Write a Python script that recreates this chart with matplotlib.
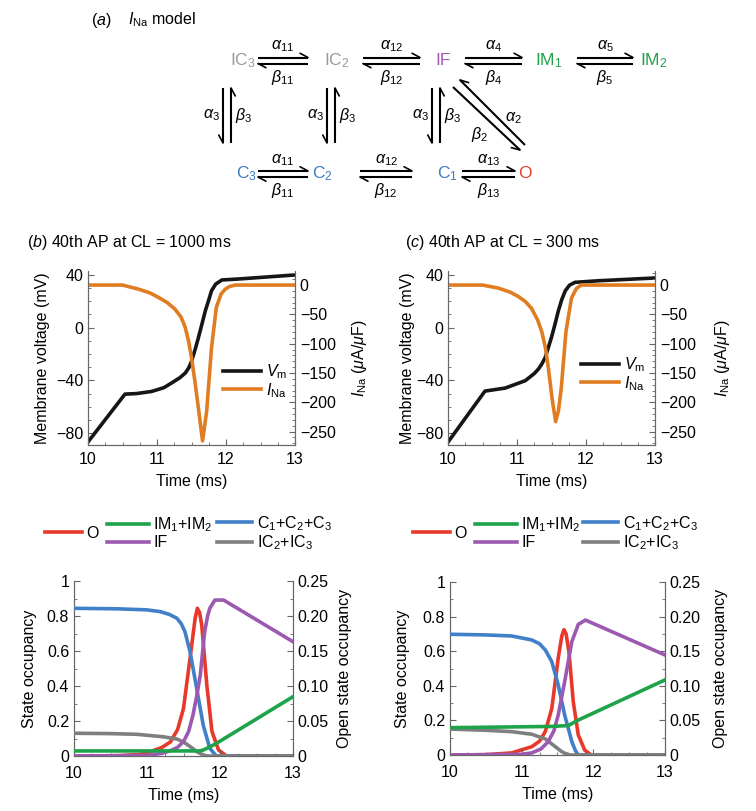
import numpy as np
import matplotlib
matplotlib.use("Agg")
import matplotlib.pyplot as plt
from matplotlib.ticker import MultipleLocator, AutoMinorLocator

plt.rcParams['font.family'] = ['Liberation Sans', 'DejaVu Sans']
plt.rcParams['mathtext.fontset'] = 'custom'
plt.rcParams['mathtext.rm'] = 'Liberation Sans'
plt.rcParams['mathtext.it'] = 'Liberation Sans:italic'
plt.rcParams['mathtext.bf'] = 'Liberation Sans:bold'
plt.rcParams['font.size'] = 11.5

# ---- data ----
# (b) top: CL = 1000 ms
b_vm_t = [10, 10.536, 10.7, 10.92, 11.1, 11.21, 11.33, 11.41, 11.46, 11.5, 11.55, 11.6, 11.65, 11.7, 11.75, 11.79, 11.85, 11.94, 12.2, 13]
b_vm = [-86.7, -50.4, -50, -48.4, -45.5, -42, -38, -34.4, -30.5, -25.5, -17, -7.6, 2.5, 12.7, 21, 28, 33, 36.2, 37, 40]
b_ina_t = [10, 10.5, 10.73, 10.9, 11.02, 11.15, 11.26, 11.35, 11.41, 11.46, 11.5, 11.55, 11.6, 11.66, 11.72, 11.79, 11.86, 11.93, 11.99, 12.05, 12.13, 13]
b_ina = [0, 0, -6.9, -13.5, -21, -30, -41, -55, -72.6, -97, -124, -165, -210, -266, -215, -107, -38, -15, -7, -2.5, 0, 0]

# (c) top: CL = 300 ms
c_vm_t = [10, 10.536, 10.83, 11.12, 11.25, 11.31, 11.36, 11.41, 11.5, 11.55, 11.6, 11.65, 11.7, 11.76, 11.84, 12.18, 13]
c_vm = [-86.8, -48.1, -45.8, -40.2, -34.8, -31.4, -27.5, -22.5, -7.3, 2.5, 12.9, 21.5, 28, 32.2, 34.4, 35.6, 37.7]
c_ina_t = [10, 10.5, 10.73, 10.9, 11.02, 11.12, 11.21, 11.3, 11.36, 11.41, 11.45, 11.51, 11.56, 11.6, 11.64, 11.71, 11.79, 11.86, 11.93, 13]
c_ina = [0, 0, -5.2, -12, -19.6, -28, -39.7, -60, -80, -106, -137.6, -195, -233, -215, -178, -79, -22, -6, 0, 0]

# (b) bottom: state occupancies
b_o_t = [10, 10.6, 10.9, 11.04, 11.2, 11.32, 11.42, 11.5, 11.59, 11.66, 11.69, 11.72, 11.75, 11.82, 11.89, 11.98, 12.09, 13]
b_o = [0, 0.0005, 0.002, 0.006, 0.012, 0.02, 0.038, 0.068, 0.14, 0.197, 0.211, 0.205, 0.187, 0.101, 0.035, 0.0086, 0, 0]
b_im_t = [10, 11.72, 11.77, 11.85, 11.95, 13]
b_im = [0.029, 0.029, 0.034, 0.05, 0.072, 0.339]
b_c_t = [10, 10.6, 11.0, 11.18, 11.3, 11.41, 11.47, 11.52, 11.59, 11.68, 11.77, 11.86, 11.95, 13]
b_c = [0.844, 0.841, 0.835, 0.825, 0.81, 0.787, 0.755, 0.71, 0.596, 0.387, 0.177, 0.044, 0, 0]
b_if_t = [10, 11.0, 11.2, 11.32, 11.42, 11.5, 11.57, 11.63, 11.68, 11.73, 11.79, 11.83, 11.86, 11.93, 12.05, 13]
b_if = [0, 0.003, 0.015, 0.03, 0.05, 0.082, 0.14, 0.234, 0.34, 0.463, 0.71, 0.8, 0.844, 0.891, 0.891, 0.653]
b_ic_t = [10, 10.5, 10.86, 11.22, 11.41, 11.5, 11.56, 11.62, 11.68, 11.75, 11.82, 13]
b_ic = [0.13, 0.128, 0.124, 0.11, 0.097, 0.08, 0.063, 0.045, 0.025, 0.01, 0, 0]

# (c) bottom: state occupancies
c_o_t = [10, 10.5, 10.86, 11.14, 11.25, 11.33, 11.42, 11.51, 11.56, 11.59, 11.62, 11.66, 11.72, 11.79, 11.88, 11.97, 13]
c_o = [0, 0.0005, 0.003, 0.012, 0.02, 0.034, 0.067, 0.14, 0.172, 0.181, 0.175, 0.149, 0.077, 0.029, 0.007, 0, 0]
c_im_t = [10, 11.4, 11.65, 11.79, 13]
c_im = [0.158, 0.165, 0.17, 0.202, 0.434]
c_c_t = [10, 10.5, 10.86, 11.14, 11.25, 11.33, 11.42, 11.51, 11.6, 11.7, 11.75, 11.79, 13]
c_c = [0.698, 0.694, 0.688, 0.665, 0.643, 0.607, 0.54, 0.405, 0.231, 0.077, 0.025, 0, 0]
c_if_t = [10, 11.0, 11.14, 11.27, 11.37, 11.45, 11.51, 11.6, 11.7, 11.79, 11.89, 13]
c_if = [0, 0.004, 0.012, 0.035, 0.077, 0.14, 0.231, 0.424, 0.655, 0.755, 0.78, 0.578]
c_ic_t = [10, 10.5, 10.86, 11.14, 11.33, 11.47, 11.55, 11.6, 11.68, 13]
c_ic = [0.15, 0.143, 0.135, 0.12, 0.093, 0.048, 0.022, 0.01, 0, 0]

W, H = 756, 811
RED, GREEN, BLUE, PURPLE, GRAY = '#e8382a', '#1ea34b', '#4080c8', '#9b59b0', '#7f7f7f'
ORANGE, BLACK = '#e07d22', '#161616'
LW = 2.6
FS = 11.5

fig = plt.figure(figsize=(W / 100, H / 100), dpi=100)

# full-figure pixel canvas for the scheme and free text
dg = fig.add_axes([0, 0, 1, 1], zorder=-1)
dg.set_xlim(0, W)
dg.set_ylim(H, 0)
dg.axis('off')


def px_axes(l, t, r, b):
    return fig.add_axes([l / W, 1 - b / H, (r - l) / W, (b - t) / H])


def harpoon(p0, p1, side, L=9, ang=28):
    p0 = np.array(p0, float)
    p1 = np.array(p1, float)
    d = (p1 - p0) / np.hypot(*(p1 - p0))
    n = np.array([-d[1], d[0]])
    a = np.radians(ang)
    tip = p1 - L * np.cos(a) * d + side * L * np.sin(a) * n
    dg.plot([p0[0], p1[0]], [p0[1], p1[1]], color='k', lw=1.5, solid_capstyle='butt')
    dg.plot([p1[0], tip[0]], [p1[1], tip[1]], color='k', lw=1.2, solid_capstyle='round')


def hpair(x0, x1, y, a_lab, b_lab):
    harpoon((x0, y - 3), (x1, y - 3), -1)
    harpoon((x1, y + 3), (x0, y + 3), -1)
    xm = (x0 + x1) / 2
    dg.text(xm, y - 14, a_lab, ha='center', va='center', fontsize=FS)
    dg.text(xm, y + 17, b_lab, ha='center', va='center', fontsize=FS)


def vpair(x, y0, y1):
    harpoon((x - 4, y0), (x - 4, y1), 1)
    harpoon((x + 4, y1), (x + 4, y0), 1)
    dg.text(x - 16, (y0 + y1) / 2, r'$\alpha_3$', ha='center', va='center', fontsize=FS)
    dg.text(x + 17, (y0 + y1) / 2, r'$\beta_3$', ha='center', va='center', fontsize=FS)


# ---- (a) scheme ----
dg.text(91, 20, r'($\it{a}$)', ha='left', va='center', fontsize=FS)
dg.text(128, 20, r'$I_{\rm Na}$ model', ha='left', va='center', fontsize=FS)

ytop, ybot = 60.5, 174
states = [('IC$_3$', 243, ytop, '#9a9a9a'), ('IC$_2$', 337, ytop, '#9a9a9a'),
          ('IF', 443, ytop, '#a25bb5'), ('IM$_1$', 549, ytop, '#22a04a'),
          ('IM$_2$', 654, ytop, '#22a04a'), ('C$_3$', 246, ybot, '#3f7cc4'),
          ('C$_2$', 322, ybot, '#3f7cc4'), ('C$_1$', 447, ybot, '#3f7cc4'),
          ('O', 525, ybot, '#e8402a')]
for lab, x, y, col in states:
    dg.text(x, y, lab, ha='center', va='center', color=col, fontsize=12.5)

hpair(258, 308, ytop, r'$\alpha_{11}$', r'$\beta_{11}$')
hpair(363, 420, ytop, r'$\alpha_{12}$', r'$\beta_{12}$')
hpair(465, 522, ytop, r'$\alpha_4$', r'$\beta_4$')
hpair(577, 633, ytop, r'$\alpha_5$', r'$\beta_5$')
hpair(258, 308, ybot, r'$\alpha_{11}$', r'$\beta_{11}$')
hpair(360, 412, ybot, r'$\alpha_{12}$', r'$\beta_{12}$')
hpair(462, 515, ybot, r'$\alpha_{13}$', r'$\beta_{13}$')
vpair(227, 88, 143)
vpair(331, 88, 143)
vpair(436, 88, 143)
harpoon((525, 145), (460, 80), 1)
harpoon((453, 87), (520, 150), 1)
dg.text(513, 118, r'$\alpha_2$', ha='center', va='center', fontsize=FS)
dg.text(480, 135, r'$\beta_2$', ha='center', va='center', fontsize=FS)


def style(ax):
    for s in ax.spines.values():
        s.set_color('#666666')
        s.set_linewidth(0.8)
    ax.spines['top'].set_visible(False)
    ax.tick_params(which='both', direction='in', colors='#666666', labelcolor='k',
                   labelsize=FS, top=False)
    ax.tick_params(which='major', length=4)
    ax.tick_params(which='minor', length=2.5)
    ax.tick_params(axis='x', which='major', pad=7)


def label_x(ax, px):
    return ax.transAxes.inverted().transform(fig.transFigure.transform((px / W, 0)))[0]


def top_panel(box, vt, vm, it, ina, title, title_x, leg_xy, lab_l, lab_r):
    ax = px_axes(*box)
    ax2 = ax.twinx()
    l1, = ax.plot(vt, vm, color=BLACK, lw=LW, zorder=3)
    l2, = ax2.plot(it, ina, color=ORANGE, lw=LW, zorder=2)
    ax.set_xlim(10, 13)
    ax.set_ylim(-89, 43)
    ax2.set_ylim(-273, 24)
    ax.xaxis.set_major_locator(MultipleLocator(1))
    ax.xaxis.set_minor_locator(AutoMinorLocator(4))
    ax.yaxis.set_major_locator(MultipleLocator(40))
    ax.yaxis.set_minor_locator(AutoMinorLocator(4))
    ax2.yaxis.set_major_locator(MultipleLocator(50))
    ax2.yaxis.set_minor_locator(AutoMinorLocator(5))
    style(ax)
    style(ax2)
    ax.tick_params(which='both', right=False)
    ax.tick_params(axis='x', which='major', pad=5)
    ax.set_xlabel('Time (ms)', fontsize=FS, labelpad=5)
    ax.set_ylabel('Membrane voltage (mV)', fontsize=FS)
    ax2.set_ylabel(r'$I_{\rm Na}$ ($\mu$A/$\mu$F)', fontsize=FS)
    ax.yaxis.set_label_coords(label_x(ax, lab_l), 0.5)
    ax2.yaxis.set_label_coords(label_x(ax2, lab_r), 0.5)
    ax2.legend([l1, l2], [r'$V_{\rm m}$', r'$I_{\rm Na}$'], loc='center left',
               bbox_to_anchor=leg_xy, bbox_transform=dg.transData, frameon=False,
               handlelength=2.4, handletextpad=0.3, labelspacing=0.0,
               borderpad=0, borderaxespad=0, fontsize=FS)
    dg.text(title_x, 242, title, ha='left', va='center', fontsize=FS)
    return ax


def occ_fmt(v, p):
    v = round(v, 3)
    if v == 0:
        return '0'
    if v == 1:
        return '1'
    return '%.1f' % v


def open_fmt(v, p):
    v = round(v, 4)
    return '0' if v == 0 else '%.2f' % v


def bottom_panel(box, data, lab_l, lab_r, leg_x):
    (o_t, o), (im_t, im), (c_t, c), (if_t, iff), (ic_t, ic) = data
    ax = px_axes(*box)
    ax2 = ax.twinx()
    hc, = ax.plot(c_t, c, color=BLUE, lw=LW, zorder=3)
    hic, = ax.plot(ic_t, ic, color=GRAY, lw=LW, zorder=3)
    hif, = ax.plot(if_t, iff, color=PURPLE, lw=LW, zorder=3)
    him, = ax.plot(im_t, im, color=GREEN, lw=LW, zorder=4)
    ho, = ax2.plot(o_t, o, color=RED, lw=LW)
    ax.set_zorder(ax2.get_zorder() + 1)
    ax.patch.set_visible(False)
    ax.set_xlim(10, 13)
    ax.set_ylim(0, 1)
    ax2.set_ylim(0, 0.25)
    ax.xaxis.set_major_locator(MultipleLocator(1))
    ax.xaxis.set_minor_locator(AutoMinorLocator(4))
    ax.yaxis.set_major_locator(MultipleLocator(0.2))
    ax.yaxis.set_minor_locator(AutoMinorLocator(2))
    ax2.yaxis.set_major_locator(MultipleLocator(0.05))
    ax2.yaxis.set_minor_locator(AutoMinorLocator(2))
    ax.yaxis.set_major_formatter(plt.FuncFormatter(occ_fmt))
    ax2.yaxis.set_major_formatter(plt.FuncFormatter(open_fmt))
    style(ax)
    style(ax2)
    ax.tick_params(which='both', right=False)
    ax.set_xlabel('Time (ms)', fontsize=FS, labelpad=5)
    ax.set_ylabel('State occupancy', fontsize=FS)
    ax2.set_ylabel('Open state occupancy', fontsize=FS)
    ax.yaxis.set_label_coords(label_x(ax, lab_l), 0.5)
    ax2.yaxis.set_label_coords(label_x(ax2, lab_r), 0.5)
    kw = dict(loc='center left', bbox_transform=dg.transData, frameon=False,
              handletextpad=0.3, labelspacing=0.05, borderpad=0, borderaxespad=0,
              fontsize=FS)
    lg1 = dg.legend([ho], ['O'], bbox_to_anchor=(leg_x[0], 533), handlelength=2.3, **kw)
    dg.add_artist(lg1)
    lg2 = dg.legend([him, hif], [r'IM$_1$+IM$_2$', 'IF'], bbox_to_anchor=(leg_x[1], 533),
                    handlelength=2.6, **kw)
    dg.add_artist(lg2)
    lg3 = dg.legend([hc, hic], [r'C$_1$+C$_2$+C$_3$', r'IC$_2$+IC$_3$'],
                    bbox_to_anchor=(leg_x[2], 533), handlelength=2.2, **kw)
    dg.add_artist(lg3)
    dg.legend_ = None
    return ax


top_panel((88, 271, 295, 445), b_vm_t, b_vm, b_ina_t, b_ina,
          r'($\it{b}$) 40th AP at CL = 1000 ms', 27, (223, 381), 50, 350)
top_panel((448, 271, 655, 445), c_vm_t, c_vm, c_ina_t, c_ina,
          r'($\it{c}$) 40th AP at CL = 300 ms', 405, (581, 374), 415, 713)

bottom_panel((74, 581, 293, 756),
             [(b_o_t, b_o), (b_im_t, b_im), (b_c_t, b_c), (b_if_t, b_if), (b_ic_t, b_ic)],
             37, 337, (45, 107, 217))
bottom_panel((450, 582, 665, 755),
             [(c_o_t, c_o), (c_im_t, c_im), (c_c_t, c_c), (c_if_t, c_if), (c_ic_t, c_ic)],
             410, 713, (413, 475, 583))

fig.savefig('out.png', dpi=100)
